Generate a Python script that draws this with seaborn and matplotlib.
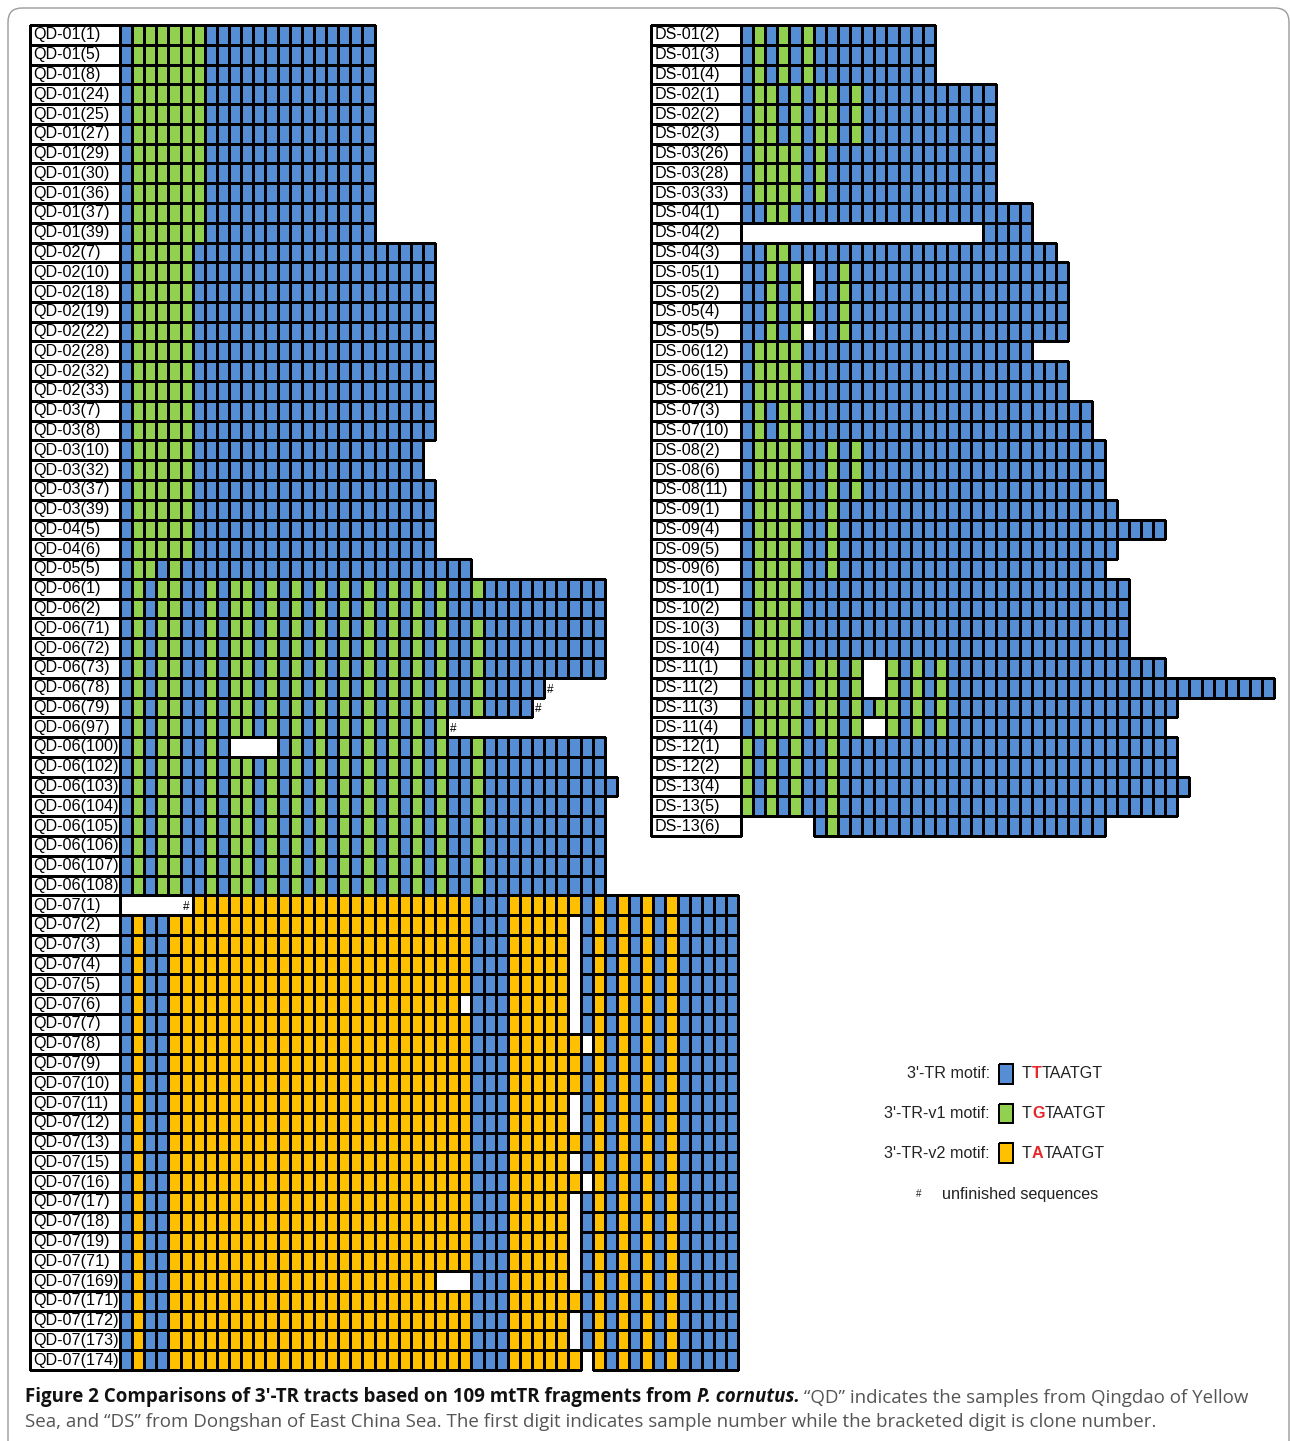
import numpy as np
import matplotlib
matplotlib.use("Agg")
import matplotlib.pyplot as plt
import seaborn as sns
from matplotlib.colors import ListedColormap
from matplotlib.patches import FancyBboxPatch

sns.set_style("white")
plt.rcParams["font.family"] = ["Liberation Sans", "DejaVu Sans"]

# Motif codes: B = 3'-TR, G = 3'-TR-v1, Y = 3'-TR-v2
# '.' = gap in the alignment, '#' = unfinished sequence
MOTIF_COLORS = ["#558ED5", "#92D050", "#FFC000"]
CODE = {"B": 0, "G": 1, "Y": 2}

qd_labels = [
    "QD-01(1)", "QD-01(5)", "QD-01(8)", "QD-01(24)", "QD-01(25)", "QD-01(27)",
    "QD-01(29)", "QD-01(30)", "QD-01(36)", "QD-01(37)", "QD-01(39)",
    "QD-02(7)", "QD-02(10)", "QD-02(18)", "QD-02(19)", "QD-02(22)", "QD-02(28)",
    "QD-02(32)", "QD-02(33)",
    "QD-03(7)", "QD-03(8)", "QD-03(10)", "QD-03(32)", "QD-03(37)", "QD-03(39)",
    "QD-04(5)", "QD-04(6)", "QD-05(5)",
    "QD-06(1)", "QD-06(2)", "QD-06(71)", "QD-06(72)", "QD-06(73)", "QD-06(78)",
    "QD-06(79)", "QD-06(97)", "QD-06(100)", "QD-06(102)", "QD-06(103)",
    "QD-06(104)", "QD-06(105)", "QD-06(106)", "QD-06(107)", "QD-06(108)",
    "QD-07(1)", "QD-07(2)", "QD-07(3)", "QD-07(4)", "QD-07(5)", "QD-07(6)",
    "QD-07(7)", "QD-07(8)", "QD-07(9)", "QD-07(10)", "QD-07(11)", "QD-07(12)",
    "QD-07(13)", "QD-07(15)", "QD-07(16)", "QD-07(17)", "QD-07(18)", "QD-07(19)",
    "QD-07(71)", "QD-07(169)", "QD-07(171)", "QD-07(172)", "QD-07(173)",
    "QD-07(174)",
]

qd01 = "BGGGGGGBBB" "BBBBBBBBBB" "B"
qd02 = "BGGGGGBBBB" "BBBBBBBBBB" "BBBBBB"
qd03s = "BGGGGGBBBB" "BBBBBBBBBB" "BBBBB"
qd05 = "BGGBGBBBBB" "BBBBBBBBBB" "BBBBBBBBB"
qd06 = "BGBGGBBGBG" "GBGBGBGBGB" "GBGBGBGBBG" "BBBBBBBBBB"
qd07 = "BYBBYYYYYY" "YYYYYYYYYY" "YYYYYYYYYB" "BBYYYYYYBY" "BYBYBYBBBBB"
qd07_gap = "BYBBYYYYYY" "YYYYYYYYYY" "YYYYYYYYYB" "BBYYYYY.BY" "BYBYBYBBBBB"
qd07_shift = "BYBBYYYYYY" "YYYYYYYYYY" "YYYYYYYYYB" "BBYYYYYY.Y" "BYBYBYBBBBB"

qd_tracts = (
    [qd01] * 11
    + [qd02] * 8
    + [qd02, qd02, qd03s, qd03s, qd02, qd02]
    + [qd02, qd02, qd05]
    + [
        qd06,
        "BGBGGBBGBG" "GBGBGBGBGB" "GBGBGBGBBB" "BBBBBBBBBB",
        qd06, qd06, qd06,
        "BGBGGBBGBG" "GBGBGBGBGB" "GBGBGBGBBG" "BBBBB#",
        "BGBGGBBGBG" "GBGBGBGBGB" "GBGBGBGBBG" "BBBB#",
        "BGBGGBBGBG" "GBGBGBGBGB" "GBGBGBG#",
        "BGBGGBBGB." "...BGBGBGB" "GBGBGBGBBG" "BBBBBBBBBB",
        qd06,
        "BGBGGBBGBG" "GBGBGBGBGB" "GBGBGBGBBG" "BBBBBBBBBB" "B",
        qd06, qd06, qd06, qd06, qd06,
    ]
    + [
        ".....#YYYY" "YYYYYYYYYY" "YYYYYYYYYB" "BBYYYYYYBY" "BYBYBYBBBBB",
        qd07_gap, qd07_gap, qd07_gap, qd07_gap,
        "BYBBYYYYYY" "YYYYYYYYYY" "YYYYYYYY.B" "BBYYYYY.BY" "BYBYBYBBBBB",
        qd07_gap, qd07_shift, qd07, qd07, qd07_gap, qd07_gap, qd07,
        qd07_gap, qd07_shift, qd07_gap, qd07_gap, qd07_gap, qd07_gap,
        "BYBBYYYYYY" "YYYYYYYYYY" "YYYYYY...B" "BBYYYYY.BY" "BYBYBYBBBBB",
        qd07, qd07_gap, qd07_gap, qd07_shift,
    ]
)

ds_labels = [
    "DS-01(2)", "DS-01(3)", "DS-01(4)", "DS-02(1)", "DS-02(2)", "DS-02(3)",
    "DS-03(26)", "DS-03(28)", "DS-03(33)", "DS-04(1)", "DS-04(2)", "DS-04(3)",
    "DS-05(1)", "DS-05(2)", "DS-05(4)", "DS-05(5)", "DS-06(12)", "DS-06(15)",
    "DS-06(21)", "DS-07(3)", "DS-07(10)", "DS-08(2)", "DS-08(6)", "DS-08(11)",
    "DS-09(1)", "DS-09(4)", "DS-09(5)", "DS-09(6)", "DS-10(1)", "DS-10(2)",
    "DS-10(3)", "DS-10(4)", "DS-11(1)", "DS-11(2)", "DS-11(3)", "DS-11(4)",
    "DS-12(1)", "DS-12(2)", "DS-13(4)", "DS-13(5)", "DS-13(6)",
]

ds01 = "BGBGBGBBBB" "BBBBBB"
ds02 = "BGGBGBGGBG" "BBBBBBBBBB" "B"
ds03 = "BGGGGBGBBB" "BBBBBBBBBB" "B"
ds05 = "BBGBG.BBGB" "BBBBBBBBBB" "BBBBBBB"
ds06 = "BGGGGBBBBB" "BBBBBBBBBB" "BBBBBBB"
ds07 = "BGBGGBBBBB" "BBBBBBBBBB" "BBBBBBBBB"
ds08 = "BGGGGBBGBG" "BBBBBBBBBB" "BBBBBBBBBB"
ds09 = "BGGGGBBGBB" "BBBBBBBBBB" "BBBBBBBBBB" "B"
ds10 = "BGGGGBBBBB" "BBBBBBBBBB" "BBBBBBBBBB" "BB"
ds11 = "BGGGGBGGBG" "..GBGBGBBB" "BBBBBBBBBB" "BBBBB"
ds12 = "GBGBGBBGBB" "BBBBBBBBBB" "BBBBBBBBBB" "BBBBBB"

ds_tracts = [
    ds01, ds01, ds01, ds02, ds02, ds02, ds03, ds03, ds03,
    "BBGGBBBBBB" "BBBBBBBBBB" "BBBB",
    ".........." ".........." "BBBB",
    "BBGGBBBBBB" "BBBBBBBBBB" "BBBBBB",
    ds05, ds05, "BBGBGGBBGB" "BBBBBBBBBB" "BBBBBBB", ds05,
    "BGGGGBBBBB" "BBBBBBBBBB" "BBBB", ds06, ds06,
    ds07, ds07, ds08, ds08, ds08,
    ds09, "BGGGGBBGBB" "BBBBBBBBBB" "BBBBBBBBBB" "BBBBB", ds09,
    "BGGGGBBGBB" "BBBBBBBBBB" "BBBBBBBBBB",
    ds10, ds10, ds10, ds10,
    ds11,
    "BGGGGBGGBG" "..GBGBGBBB" "BBBBBBBBBB" "BBBBBBBBBB" "BBBB",
    "BGGGGBGGBG" "BGGBGBGBBB" "BBBBBBBBBB" "BBBBBB",
    ds11,
    ds12, ds12,
    "GBGBGBBGBB" "BBBBBBBBBB" "BBBBBBBBBB" "BBBBBBB",
    ds12,
    "......BGBB" "BBBBBBBBBB" "BBBBBBBBBB",
]

legend_names = ["3'-TR motif:", "3'-TR-v1 motif:", "3'-TR-v2 motif:"]
legend_codes = ["B", "G", "Y"]
legend_seqs = [("T", "T", "TAATGT"), ("T", "G", "TAATGT"), ("T", "A", "TAATGT")]

# ---- layout (pixels) ----
W, H = 1290, 1441
CELL_W, ROW_H, LAB_W = 12.12, 19.78, 90
LABEL_FS = 11.6

fig = plt.figure(figsize=(W / 100, H / 100), dpi=100)


def px_axes(x0, y0, x1, y1):
    return fig.add_axes([x0 / W, 1 - y1 / H, (x1 - x0) / W, (y1 - y0) / H])


def tidy_mesh(ax, mat):
    # outline only the cells that hold a motif, and let borders spill over the axes edge
    ax.set_facecolor("none")
    mesh = ax.collections[0]
    filled = ~np.isnan(mat).ravel()
    ec = np.zeros((filled.size, 4))
    ec[filled, 3] = 1.0
    mesh.set_edgecolor(ec)
    mesh.set_clip_on(False)


bg = px_axes(0, 0, W, H)
bg.set_xlim(0, W)
bg.set_ylim(H, 0)
bg.axis("off")
bg.add_patch(FancyBboxPatch((8, 8), 1281, 1460,
                            boxstyle="round,pad=0,rounding_size=14",
                            fc="none", ec="#9a9a9a", lw=1.0))


def to_matrix(tracts):
    width = max(len(t) for t in tracts)
    mat = np.full((len(tracts), width), np.nan)
    for r, t in enumerate(tracts):
        for c, ch in enumerate(t):
            if ch in CODE:
                mat[r, c] = CODE[ch]
    return mat


def draw_panel(labels, tracts, x0, y0):
    n = len(tracts)
    mat = to_matrix(tracts)
    y1 = y0 + n * ROW_H

    lab_ax = px_axes(x0, y0, x0 + LAB_W, y1)
    sns.heatmap(np.zeros((n, 1)), ax=lab_ax, cmap=ListedColormap(["white"]),
                cbar=False, annot=np.array(labels).reshape(-1, 1), fmt="",
                linewidths=1.0, linecolor="black",
                xticklabels=False, yticklabels=False,
                annot_kws={"fontsize": LABEL_FS, "color": "black"})
    for t in lab_ax.texts:
        t.set_ha("left")
        t.set_x(0.035)
    tidy_mesh(lab_ax, np.zeros((n, 1)))

    cell_ax = px_axes(x0 + LAB_W, y0, x0 + LAB_W + mat.shape[1] * CELL_W, y1)
    sns.heatmap(mat, ax=cell_ax, cmap=ListedColormap(MOTIF_COLORS),
                vmin=-0.5, vmax=2.5, cbar=False,
                linewidths=1.0, linecolor="black",
                xticklabels=False, yticklabels=False)
    tidy_mesh(cell_ax, mat)
    for r, t in enumerate(tracts):
        for c, ch in enumerate(t):
            if ch == "#":
                cell_ax.text(c + 0.5, r + 0.6, "#", ha="center", va="center",
                             fontsize=8.5, color="black")


draw_panel(qd_labels, qd_tracts, 30, 25)
draw_panel(ds_labels, ds_tracts, 651, 25)

# ---- legend ----
sw = np.full((2 * len(legend_codes) - 1, 1), np.nan)
for i, code in enumerate(legend_codes):
    sw[2 * i, 0] = CODE[code]
leg_ax = px_axes(999, 1064, 1013, 1064 + sw.shape[0] * ROW_H)
sns.heatmap(sw, ax=leg_ax, cmap=ListedColormap(MOTIF_COLORS), vmin=-0.5,
            vmax=2.5, cbar=False, linewidths=1.2, linecolor="black",
            xticklabels=False, yticklabels=False)
tidy_mesh(leg_ax, sw)

for i, (name, seq) in enumerate(zip(legend_names, legend_seqs)):
    yy = 2 * i + 0.5
    leg_ax.text(-0.65, yy, name, ha="right", va="center",
                fontsize=LABEL_FS, color="#222222")
    t0 = leg_ax.text(1.65, yy, seq[0], ha="left", va="center",
                     fontsize=LABEL_FS, color="#222222")
    t1 = leg_ax.annotate(seq[1], xy=(1, 0), xycoords=t0, va="bottom",
                         ha="left", fontsize=LABEL_FS, color="#e8262a",
                         fontweight="bold")
    leg_ax.annotate(seq[2], xy=(1, 0), xycoords=t1, va="bottom", ha="left",
                    fontsize=LABEL_FS, color="#222222")

bg.text(919, 1194, "#", ha="center", va="center", fontsize=7, color="#222222")
bg.text(942, 1194, "unfinished sequences", ha="left", va="center",
        fontsize=LABEL_FS, color="#222222")

# ---- caption ----
CAP_FONT = ["Open Sans", "DejaVu Sans"]
CAP_FS = 13.5
c0 = bg.text(25, 1402, "Figure 2 Comparisons of 3\u2032-TR tracts based on 109 mtTR fragments from ",
             ha="left", va="baseline", fontsize=CAP_FS, fontweight="bold",
             family=CAP_FONT, color="#111111")
c1 = bg.annotate("P. cornutus.", xy=(1, 0), xycoords=c0, va="bottom", ha="left",
                 fontsize=CAP_FS, fontweight="bold", fontstyle="italic",
                 family=CAP_FONT, color="#111111")
bg.annotate(" \u201cQD\u201d indicates the samples from Qingdao of Yellow",
            xy=(1, 0), xycoords=c1, va="bottom", ha="left",
            fontsize=CAP_FS, family=CAP_FONT, color="#555555")
bg.text(25, 1427, "Sea, and \u201cDS\u201d from Dongshan of East China Sea. The first digit "
        "indicates sample number while the bracketed digit is clone number.",
        ha="left", va="baseline", fontsize=CAP_FS, family=CAP_FONT,
        color="#555555")

fig.savefig("out.png", dpi=100)
